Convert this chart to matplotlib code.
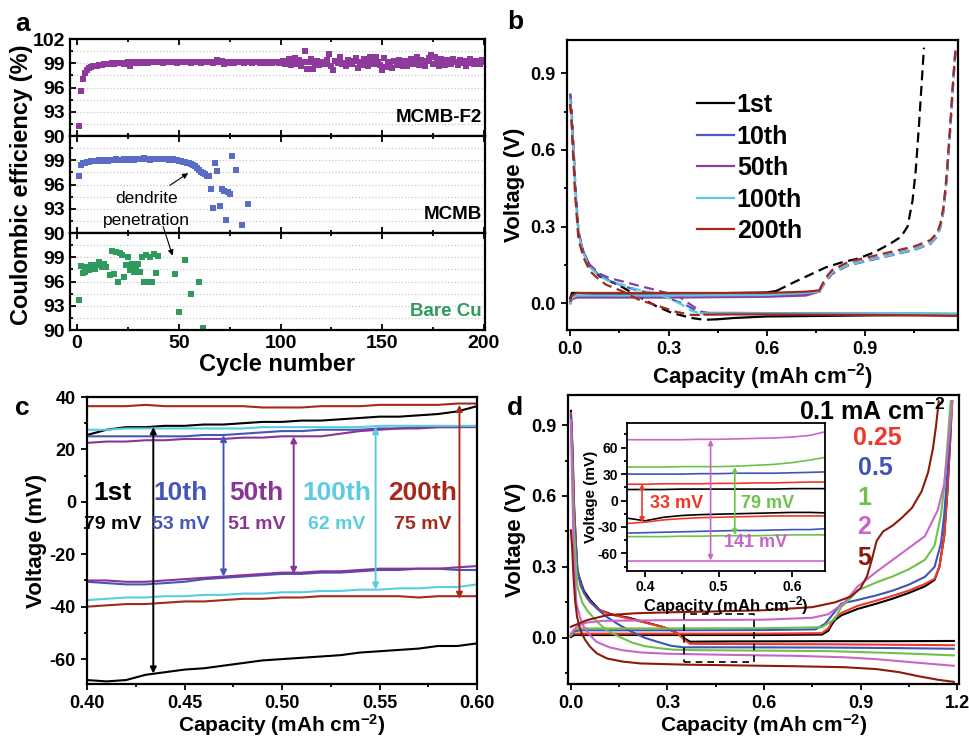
import matplotlib
matplotlib.use("Agg")
import matplotlib.pyplot as plt
from matplotlib.ticker import MultipleLocator

plt.rcParams['font.family'] = ['Liberation Sans', 'DejaVu Sans']
plt.rcParams['font.weight'] = 'bold'
plt.rcParams['axes.labelweight'] = 'bold'
plt.rcParams['mathtext.fontset'] = 'custom'
plt.rcParams['mathtext.bf'] = 'Liberation Sans:bold'
plt.rcParams['mathtext.rm'] = 'Liberation Sans:bold'
plt.rcParams['mathtext.default'] = 'bf'
plt.rcParams['axes.unicode_minus'] = False

# ---------------- panel a data ----------------
f2_ce = [
    91.2, 95.6, 97.1, 97.8, 98.2, 98.4, 98.5, 98.6, 98.7, 98.7,
    98.8, 98.8, 98.9, 98.9, 98.9, 98.9, 99.0, 98.9, 99.0, 99.0,
    99.0, 99.0, 98.9, 99.0, 99.1, 98.7, 99.0, 99.1, 99.0, 99.1,
    99.1, 99.0, 99.1, 99.1, 99.0, 99.1, 99.1, 99.2, 99.1, 99.1,
    99.1, 99.0, 99.1, 99.1, 99.2, 99.1, 99.1, 99.1, 99.0, 99.1,
    99.1, 99.2, 99.1, 99.1, 99.1, 99.0, 99.1, 99.2, 99.1, 99.1,
    99.0, 99.1, 99.2, 99.1, 99.1, 99.1, 99.0, 99.2, 99.4, 99.1,
    99.3, 98.9, 99.1, 99.0, 99.2, 99.1, 99.0, 99.1, 99.2, 99.1,
    99.1, 99.0, 99.2, 99.1, 99.1, 99.0, 99.1, 99.2, 99.1, 99.0,
    99.1, 99.2, 99.0, 99.1, 99.1, 99.0, 99.2, 99.1, 99.0, 99.1,
    99.3, 98.9, 99.2, 99.5, 98.8, 99.0, 99.7, 98.9, 99.4, 98.7,
    99.2, 100.5, 98.3, 99.1, 99.5, 98.3, 99.0, 99.3, 98.8, 99.1,
    99.2, 98.9, 99.4, 100.2, 98.7, 98.2, 99.3, 99.0, 99.8, 98.9,
    99.0, 98.6, 99.4, 99.1, 98.9, 99.3, 99.7, 98.4, 99.2, 98.8,
    99.5, 99.4, 98.7, 99.8, 99.1, 98.9, 99.8, 99.2, 98.8, 98.2,
    99.6, 98.5, 99.2, 99.0, 98.4, 99.3, 98.8, 99.4, 99.0, 98.6,
    99.3, 98.7, 99.1, 99.5, 98.9, 99.2, 99.8, 98.8, 99.4, 99.0,
    98.7, 99.3, 99.6, 100.0, 98.9, 99.8, 99.2, 98.6, 99.5, 99.0,
    98.8, 99.4, 99.1, 98.9, 99.5, 99.2, 98.8, 99.4, 99.0, 99.3,
    98.7, 99.2, 99.5, 99.0, 98.9, 99.3, 99.1, 98.9, 99.4, 99.2]
f2_cycle = list(range(1, len(f2_ce) + 1))

mcmb_cycle = list(range(1, 66)) + [66, 67, 68, 69, 70, 71, 72, 73, 74, 75, 76, 78, 81, 84]
mcmb_ce = [
    97.0, 98.4, 98.6, 98.7, 98.8, 98.8, 98.9, 98.9, 98.9, 98.9,
    99.0, 98.9, 99.0, 99.0, 98.9, 99.0, 99.0, 99.0, 99.1, 99.0,
    99.0, 99.0, 99.1, 99.0, 99.0, 99.1, 99.1, 99.0, 99.1, 99.1,
    99.1, 99.2, 99.3, 99.1, 99.1, 99.0, 99.1, 99.2, 99.1, 99.1,
    99.2, 99.1, 99.1, 99.1, 99.0, 99.0, 99.1, 99.0, 99.0, 98.9,
    98.9, 98.8, 98.8, 98.7, 98.6, 98.5, 98.4, 98.3, 98.1, 97.8,
    97.6, 97.4, 97.3, 97.1, 97.0,
    95.4, 93.1, 98.6, 97.7, 93.3, 95.4, 95.2, 91.6, 95.1, 94.8, 99.5, 97.8, 91.0, 93.6]

cu_cycle = list(range(1, 15)) + list(range(16, 41)) + [48, 50, 53, 56, 60, 62]
cu_ce = [93.7, 97.9, 97.0, 97.2, 97.8, 97.4, 98.0, 97.6, 97.5, 98.1,
         98.4, 97.8, 98.2, 97.8,
         96.8, 99.8, 96.9, 99.6, 95.9, 99.5, 99.3, 96.5, 98.0, 99.0,
         97.4, 98.2, 97.2, 97.9, 98.2, 97.2, 99.0, 95.9, 99.3, 95.9,
         99.0, 96.0, 99.4, 97.0, 99.1,
         96.9, 92.2, 98.7, 94.4, 96.0, 90.2]

# ---------------- panel b data ----------------
b_labels = ['1st', '10th', '50th', '100th', '200th']
b_colors = ['black', '#4a5bc4', '#8e3c9e', '#5cc8e0', '#a3281c']

b_dis_x = {
    '1st': [0.0, 0.004, 0.008, 0.015, 0.025, 0.04, 0.06, 0.09, 0.115, 0.16, 0.21, 0.26, 0.31, 0.37, 0.41, 0.45],
    '10th': [0.0, 0.004, 0.008, 0.015, 0.025, 0.04, 0.06, 0.09, 0.12, 0.16, 0.2, 0.26, 0.3, 0.35, 0.39, 0.41],
    '50th': [0.0, 0.004, 0.008, 0.015, 0.025, 0.04, 0.06, 0.09, 0.12, 0.16, 0.21, 0.26, 0.33, 0.37, 0.40, 0.42],
    '100th': [0.0, 0.004, 0.008, 0.015, 0.025, 0.04, 0.06, 0.09, 0.12, 0.16, 0.2, 0.26, 0.3, 0.34, 0.37, 0.40],
    '200th': [0.0, 0.004, 0.008, 0.015, 0.025, 0.04, 0.06, 0.09, 0.11, 0.16, 0.21, 0.26, 0.32, 0.37, 0.39, 0.41]}
b_dis_y = {
    '1st': [0.78, 0.72, 0.62, 0.45, 0.27, 0.2, 0.145, 0.105, 0.09, 0.062, 0.025, -0.01, -0.038, -0.058, -0.065, -0.063],
    '10th': [0.82, 0.76, 0.66, 0.47, 0.28, 0.2, 0.145, 0.11, 0.088, 0.068, 0.052, 0.035, 0.02, -0.005, -0.033, -0.04],
    '50th': [0.82, 0.76, 0.66, 0.47, 0.28, 0.2, 0.15, 0.115, 0.098, 0.085, 0.068, 0.052, 0.028, -0.008, -0.033, -0.038],
    '100th': [0.8, 0.74, 0.64, 0.46, 0.27, 0.195, 0.14, 0.105, 0.085, 0.072, 0.055, 0.039, 0.02, -0.005, -0.03, -0.04],
    '200th': [0.78, 0.72, 0.6, 0.42, 0.25, 0.18, 0.125, 0.09, 0.072, 0.046, 0.013, -0.007, -0.033, -0.046, -0.046, -0.045]}
b_pl_x = {
    '1st': [0.45, 0.5, 0.6, 0.75, 0.9, 1.05, 1.18],
    '10th': [0.41, 0.5, 0.6, 0.75, 0.9, 1.05, 1.18],
    '50th': [0.42, 0.5, 0.6, 0.75, 0.9, 1.05, 1.18],
    '100th': [0.40, 0.5, 0.6, 0.75, 0.9, 1.05, 1.18],
    '200th': [0.41, 0.5, 0.6, 0.75, 0.9, 1.05, 1.18]}
b_pl_y = {
    '1st': [-0.063, -0.058, -0.052, -0.05, -0.048, -0.046, -0.045],
    '10th': [-0.04, -0.04, -0.04, -0.041, -0.042, -0.042, -0.043],
    '50th': [-0.038, -0.038, -0.039, -0.04, -0.041, -0.041, -0.042],
    '100th': [-0.04, -0.04, -0.04, -0.04, -0.04, -0.04, -0.041],
    '200th': [-0.045, -0.044, -0.044, -0.045, -0.046, -0.048, -0.05]}
b_ch_x = {
    '1st': [0.0, 0.005, 0.02, 0.1, 0.4, 0.6, 0.63],
    '10th': [0.0, 0.005, 0.02, 0.3, 0.6, 0.72, 0.76],
    '50th': [0.0, 0.005, 0.02, 0.3, 0.6, 0.72, 0.76],
    '100th': [0.0, 0.005, 0.02, 0.3, 0.6, 0.72, 0.76],
    '200th': [0.0, 0.005, 0.02, 0.3, 0.6, 0.72, 0.76]}
b_ch_y = {
    '1st': [0.02, 0.04, 0.04, 0.035, 0.038, 0.042, 0.048],
    '10th': [0.0, 0.02, 0.028, 0.03, 0.03, 0.035, 0.045],
    '50th': [0.0, 0.015, 0.022, 0.022, 0.025, 0.03, 0.045],
    '100th': [0.0, 0.02, 0.03, 0.03, 0.032, 0.04, 0.045],
    '200th': [0.01, 0.03, 0.04, 0.04, 0.04, 0.045, 0.05]}
b_up_x = {
    '1st': [0.63, 0.68, 0.73, 0.78, 0.83, 0.88, 0.93, 0.98, 1.01, 1.03, 1.045, 1.055, 1.065, 1.075, 1.08],
    '10th': [0.76, 0.78, 0.8, 0.85, 0.9, 0.95, 1.0, 1.05, 1.1, 1.12, 1.13, 1.14, 1.15, 1.16, 1.17, 1.176],
    '50th': [0.76, 0.78, 0.8, 0.85, 0.9, 0.95, 1.0, 1.05, 1.1, 1.12, 1.13, 1.14, 1.15, 1.16, 1.17, 1.176],
    '100th': [0.76, 0.78, 0.8, 0.85, 0.9, 0.95, 1.0, 1.05, 1.1, 1.12, 1.13, 1.14, 1.15, 1.16, 1.17, 1.176],
    '200th': [0.76, 0.78, 0.8, 0.85, 0.9, 0.95, 1.0, 1.05, 1.1, 1.12, 1.13, 1.14, 1.15, 1.16, 1.17, 1.177]}
b_up_y = {
    '1st': [0.048, 0.08, 0.11, 0.14, 0.16, 0.175, 0.2, 0.235, 0.26, 0.3, 0.4, 0.52, 0.7, 0.9, 1.0],
    '10th': [0.045, 0.09, 0.12, 0.152, 0.167, 0.182, 0.197, 0.212, 0.237, 0.265, 0.3, 0.37, 0.5, 0.68, 0.88, 0.99],
    '50th': [0.045, 0.085, 0.115, 0.148, 0.163, 0.178, 0.193, 0.208, 0.232, 0.26, 0.295, 0.36, 0.49, 0.67, 0.87, 0.98],
    '100th': [0.045, 0.09, 0.12, 0.15, 0.165, 0.18, 0.195, 0.21, 0.235, 0.262, 0.298, 0.365, 0.5, 0.68, 0.88, 0.99],
    '200th': [0.05, 0.1, 0.13, 0.162, 0.177, 0.192, 0.207, 0.222, 0.247, 0.275, 0.31, 0.38, 0.51, 0.69, 0.89, 1.0]}

# ---------------- panel c data ----------------
c_cap = [0.40, 0.41, 0.42, 0.43, 0.44, 0.45, 0.46, 0.47, 0.48, 0.49, 0.50,
         0.51, 0.52, 0.53, 0.54, 0.55, 0.56, 0.57, 0.58, 0.59, 0.60]
c_top = {
    '1st': [25.5, 27.5, 28.5, 28.5, 29.0, 29.0, 29.5, 29.5, 30.0, 30.5, 30.5, 31.0, 31.0, 31.5, 32.0, 32.5, 32.5, 33.0, 33.5, 34.5, 36.5],
    '10th': [25.0, 25.0, 25.0, 25.0, 25.0, 25.0, 25.5, 25.5, 26.0, 26.5, 27.0, 27.0, 27.5, 27.5, 27.5, 28.0, 28.0, 28.5, 28.5, 28.5, 29.0],
    '50th': [22.5, 23.0, 23.0, 23.5, 23.5, 24.0, 24.0, 24.0, 24.5, 24.5, 25.0, 25.0, 25.0, 26.0, 27.0, 27.5, 28.0, 28.0, 28.5, 28.5, 28.5],
    '100th': [27.5, 27.5, 28.0, 28.0, 28.0, 28.0, 28.0, 28.0, 28.0, 28.5, 28.5, 28.5, 28.5, 28.5, 28.5, 29.0, 29.0, 29.0, 29.0, 29.0, 29.0],
    '200th': [36.5, 36.5, 36.5, 37.0, 36.5, 36.5, 36.5, 36.5, 36.5, 36.0, 36.0, 36.0, 36.5, 36.5, 36.5, 37.0, 37.0, 37.0, 37.0, 37.5, 37.5]}
c_bot = {
    '1st': [-68.0, -68.5, -68.0, -66.0, -65.0, -64.0, -63.5, -62.5, -61.5, -60.5, -60.0, -59.5, -59.0, -58.5, -57.5, -57.0, -56.5, -56.0, -55.0, -55.0, -54.0],
    '10th': [-30.5, -31.0, -31.5, -31.5, -31.0, -30.5, -29.5, -29.0, -28.5, -28.0, -27.5, -27.5, -27.0, -27.0, -26.5, -26.0, -26.0, -25.5, -25.5, -26.0, -26.0],
    '50th': [-30.0, -30.0, -30.5, -30.5, -30.0, -29.5, -29.0, -28.5, -28.0, -27.5, -27.0, -27.0, -26.5, -26.5, -26.0, -25.5, -25.5, -25.5, -25.5, -25.0, -24.5],
    '100th': [-37.5, -37.0, -36.5, -36.5, -36.0, -36.0, -35.5, -35.5, -35.0, -35.0, -34.5, -34.5, -34.0, -34.0, -33.5, -33.5, -33.0, -33.0, -32.5, -32.5, -31.5],
    '200th': [-40.0, -39.5, -39.0, -39.0, -38.5, -38.0, -38.0, -37.5, -37.0, -37.0, -36.5, -36.5, -36.0, -36.0, -36.0, -36.0, -36.0, -36.5, -36.0, -36.0, -36.0]}
c_arrow_x = [0.434, 0.470, 0.506, 0.548, 0.591]
c_arrow_top = [28.5, 25.5, 25.0, 28.5, 37.0]
c_arrow_bot = [-65.5, -28.5, -27.5, -33.5, -37.0]
c_gap = ['79 mV', '53 mV', '51 mV', '62 mV', '75 mV']
c_text_x = [0.413, 0.448, 0.487, 0.528, 0.572]

# ---------------- panel d data ----------------
d_labels = ['0.1', '0.25', '0.5', '1', '2', '5']
d_colors = ['black', '#f0382a', '#4053b8', '#6cc24a', '#c866c8', '#8b1a0a']
d_dis_x = {
    '0.1': [0.0, 0.005, 0.01, 0.02, 0.04, 0.06, 0.09, 0.13, 0.18, 0.22, 0.27, 0.3, 0.33, 0.35, 0.37, 0.5, 0.8, 1.0, 1.19],
    '0.25': [0.0, 0.005, 0.01, 0.02, 0.04, 0.06, 0.09, 0.12, 0.16, 0.2, 0.25, 0.29, 0.33, 0.35, 0.37, 0.5, 0.8, 1.0, 1.19],
    '0.5': [0.0, 0.005, 0.01, 0.02, 0.03, 0.05, 0.08, 0.11, 0.15, 0.19, 0.23, 0.27, 0.31, 0.35, 0.5, 0.8, 1.0, 1.19],
    '1': [0.0, 0.005, 0.01, 0.02, 0.035, 0.05, 0.08, 0.11, 0.15, 0.19, 0.23, 0.27, 0.32, 0.4, 0.6, 0.8, 0.9, 1.0, 1.1, 1.19],
    '2': [0.0, 0.004, 0.008, 0.017, 0.03, 0.04, 0.06, 0.08, 0.12, 0.16, 0.22, 0.3, 0.5, 0.7, 0.85, 0.95, 1.05, 1.12, 1.19],
    '5': [0.0, 0.004, 0.008, 0.013, 0.019, 0.027, 0.034, 0.045, 0.06, 0.08, 0.112, 0.16, 0.215, 0.35, 0.5, 0.7, 0.85, 0.95, 1.02, 1.08, 1.14, 1.19]}
d_dis_y = {
    '0.1': [0.96, 0.8, 0.55, 0.28, 0.2, 0.16, 0.117, 0.098, 0.085, 0.07, 0.052, 0.04, 0.02, 0.0, -0.016, -0.015, -0.014, -0.014, -0.013],
    '0.25': [0.95, 0.78, 0.55, 0.28, 0.19, 0.15, 0.118, 0.1, 0.088, 0.075, 0.058, 0.045, 0.02, -0.005, -0.025, -0.026, -0.027, -0.029, -0.031],
    '0.5': [0.94, 0.75, 0.5, 0.3, 0.22, 0.17, 0.125, 0.09, 0.055, 0.025, 0.0, -0.017, -0.033, -0.04, -0.04, -0.041, -0.043, -0.046],
    '1': [0.92, 0.7, 0.45, 0.22, 0.15, 0.117, 0.07, 0.033, 0.005, -0.02, -0.035, -0.043, -0.05, -0.052, -0.054, -0.056, -0.06, -0.064, -0.069, -0.074],
    '2': [0.92, 0.65, 0.4, 0.145, 0.08, 0.047, 0.01, -0.017, -0.04, -0.052, -0.062, -0.067, -0.072, -0.076, -0.082, -0.09, -0.102, -0.11, -0.118],
    '5': [0.455, 0.38, 0.26, 0.16, 0.09, 0.045, 0.018, -0.01, -0.038, -0.065, -0.087, -0.1, -0.108, -0.113, -0.116, -0.12, -0.124, -0.132, -0.145, -0.162, -0.177, -0.186]}
d_ch_x = {
    '0.1': [0.0, 0.01, 0.03, 0.3, 0.6, 0.78, 0.8, 0.81, 0.82, 0.84, 0.89, 0.95, 1.0, 1.05, 1.1, 1.13, 1.145, 1.16, 1.17, 1.178, 1.184],
    '0.25': [0.0, 0.01, 0.03, 0.3, 0.6, 0.78, 0.8, 0.81, 0.82, 0.84, 0.89, 0.95, 1.0, 1.05, 1.1, 1.13, 1.145, 1.16, 1.17, 1.178, 1.185],
    '0.5': [0.0, 0.01, 0.03, 0.3, 0.6, 0.76, 0.79, 0.82, 0.84, 0.89, 0.95, 1.0, 1.05, 1.1, 1.13, 1.15, 1.16, 1.17, 1.178, 1.184],
    '1': [0.0, 0.01, 0.03, 0.3, 0.6, 0.78, 0.82, 0.84, 0.87, 0.89, 0.95, 1.0, 1.05, 1.1, 1.13, 1.15, 1.16, 1.17, 1.18],
    '2': [0.0, 0.02, 0.05, 0.1, 0.3, 0.6, 0.75, 0.8, 0.85, 0.89, 0.95, 1.0, 1.05, 1.1, 1.14, 1.16, 1.17, 1.18, 1.186],
    '5': [0.0, 0.05, 0.112, 0.2, 0.3, 0.45, 0.6, 0.75, 0.82, 0.87, 0.9, 0.92, 0.935, 0.95, 0.97, 1.0, 1.03, 1.06, 1.09, 1.11, 1.125, 1.135, 1.143]}
d_ch_y = {
    '0.1': [0.004, 0.012, 0.012, 0.012, 0.012, 0.014, 0.03, 0.055, 0.075, 0.095, 0.122, 0.145, 0.166, 0.19, 0.218, 0.245, 0.3, 0.43, 0.62, 0.82, 1.0],
    '0.25': [0.01, 0.018, 0.018, 0.018, 0.018, 0.02, 0.04, 0.065, 0.085, 0.105, 0.135, 0.158, 0.178, 0.2, 0.228, 0.25, 0.3, 0.43, 0.62, 0.82, 1.0],
    '0.5': [0.01, 0.028, 0.032, 0.032, 0.033, 0.036, 0.06, 0.11, 0.145, 0.16, 0.18, 0.2, 0.225, 0.258, 0.3, 0.4, 0.52, 0.7, 0.86, 1.0],
    '1': [0.01, 0.035, 0.04, 0.04, 0.041, 0.045, 0.08, 0.13, 0.17, 0.2, 0.235, 0.26, 0.29, 0.33, 0.39, 0.52, 0.64, 0.82, 1.0],
    '2': [0.018, 0.05, 0.065, 0.072, 0.075, 0.077, 0.085, 0.1, 0.15, 0.216, 0.28, 0.33, 0.38, 0.43, 0.54, 0.65, 0.78, 0.92, 1.0],
    '5': [0.047, 0.075, 0.096, 0.104, 0.108, 0.112, 0.117, 0.13, 0.15, 0.175, 0.21, 0.26, 0.33, 0.41, 0.45, 0.475, 0.51, 0.55, 0.62, 0.7, 0.8, 0.9, 1.0]}
d_text_x = [0.938, 0.953, 0.946, 0.912, 0.912, 0.912]
d_text_y = [0.956, 0.844, 0.717, 0.59, 0.47, 0.336]
d_box = [0.351, 0.569, -0.10, 0.10]

# inset (mV)
in_cap = [0.375, 0.40, 0.425, 0.45, 0.475, 0.50, 0.525, 0.55, 0.575, 0.60, 0.625, 0.645]
in_top = {
    '0.1': [12.5, 12.5, 12.5, 13, 13, 13, 13, 13, 13, 13.5, 13.5, 13.5],
    '0.25': [18.5, 18.5, 19, 19, 19, 19.5, 19.5, 20, 20, 20.5, 21, 21],
    '0.5': [30, 30, 30, 30, 30.5, 30.5, 31, 31, 31, 31.5, 32, 32.5],
    '1': [38, 38, 38, 38.5, 38.5, 38.5, 39, 40, 41, 43, 46, 49],
    '2': [69, 69, 69, 69, 69.5, 69.5, 70, 70.5, 71, 72, 74, 78]}
in_bot = {
    '0.1': [-20, -23, -19, -17, -16, -15.5, -15, -14.5, -14, -13.5, -13.5, -14],
    '0.25': [-26, -24.5, -22, -20.5, -19.5, -19, -18.5, -18, -17.5, -17.5, -17.5, -17.5],
    '0.5': [-37, -36.5, -36, -35.5, -35, -34.5, -34, -34, -33.5, -33, -33, -32],
    '1': [-41, -41, -41, -40.5, -40.5, -40, -40, -40, -39.5, -39, -39, -39],
    '2': [-69, -69, -69, -69, -69, -69, -69, -69, -69, -69, -69, -69]}

W, H = 970, 741
fig = plt.figure(figsize=(9.7, 7.41), dpi=100)


def box(l, t, r, b):
    return [l / W, 1 - b / H, (r - l) / W, (b - t) / H]


def style(ax, size=13):
    for s in ax.spines.values():
        s.set_linewidth(1.6)
    ax.tick_params(which='both', labelsize=size, width=1.3)
    ax.tick_params(which='major', length=4.5)
    ax.tick_params(which='minor', length=2.5)


# ---------------- a ----------------
ax1 = fig.add_axes(box(70, 39, 485, 136))
ax2 = fig.add_axes(box(70, 136, 485, 233))
ax3 = fig.add_axes(box(70, 233, 485, 330))
sets = [(ax1, f2_cycle, f2_ce, '#8e3a9c', 'MCMB-F2', 'black'),
        (ax2, mcmb_cycle, mcmb_ce, '#5b6cc4', 'MCMB', 'black'),
        (ax3, cu_cycle, cu_ce, '#2e9a5c', 'Bare Cu', '#2e9a5c')]
for ax, xs, ys, col, name, tcol in sets:
    ax.plot(xs, ys, 's', color=col, markersize=4.2, markeredgewidth=0)
    ax.set_xlim(-3.5, 200.5)
    ax.set_ylim(90, 102)
    ax.set_yticks([90, 93, 96, 99, 102] if ax is ax1 else [90, 93, 96, 99])
    ax.yaxis.set_minor_locator(MultipleLocator(1.5))
    ax.set_xticks([0, 50, 100, 150, 200])
    ax.xaxis.set_minor_locator(MultipleLocator(25))
    ax.grid(which='both', axis='y', color='#c8c8c8', linestyle=':', linewidth=0.9)
    ax.tick_params(which='both', direction='in', top=True)
    style(ax, 14)
    ax.text(199, 92.3, name, color=tcol, fontsize=13.5, ha='right', va='center')
    if ax is not ax3:
        ax.tick_params(labelbottom=False)
ax3.set_xlabel('Cycle number', fontsize=17, labelpad=1)
fig.text(0.022, 0.751, 'Coulombic efficiency (%)', rotation=90, fontsize=17,
         ha='center', va='center')
ax2.text(34, 94.3, 'dendrite', fontsize=12.5, fontweight='normal', ha='center', va='center')
ax2.text(34, 91.6, 'penetration', fontsize=12.5, fontweight='normal', ha='center', va='center')
ax2.annotate('', xy=(54.6, 97.4), xytext=(45.6, 95.9),
             arrowprops=dict(arrowstyle='-|>', color='black', lw=0.8, mutation_scale=8,
                             shrinkA=0, shrinkB=0))
ax3.annotate('', xy=(46.9, 99.2), xytext=(42.3, 90.8), textcoords=ax2.transData,
             arrowprops=dict(arrowstyle='-|>', color='black', lw=0.8, mutation_scale=8,
                             shrinkA=0, shrinkB=0), annotation_clip=False)

# ---------------- b ----------------
axb = fig.add_axes(box(567, 40, 958, 330))
dash = (0, (4.5, 2.5))
for lab, col in zip(b_labels, b_colors):
    axb.plot(b_dis_x[lab], b_dis_y[lab], color=col, lw=1.6, linestyle=dash)
    axb.plot(b_pl_x[lab], b_pl_y[lab], color=col, lw=1.6)
    axb.plot(b_ch_x[lab], b_ch_y[lab], color=col, lw=1.6, label=lab)
    axb.plot(b_up_x[lab], b_up_y[lab], color=col, lw=1.6, linestyle=dash)
axb.set_xlim(-0.01, 1.184)
axb.set_ylim(-0.105, 1.03)
axb.set_xticks([0.0, 0.3, 0.6, 0.9])
axb.set_yticks([0.0, 0.3, 0.6, 0.9])
axb.xaxis.set_minor_locator(MultipleLocator(0.15))
axb.yaxis.set_minor_locator(MultipleLocator(0.15))
style(axb)
axb.set_xlabel('Capacity (mAh cm$^{-2}$)', fontsize=16, labelpad=2)
axb.set_ylabel('Voltage (V)', fontsize=16, labelpad=4)
axb.legend(loc='upper left', bbox_to_anchor=(0.3, 0.86), frameon=False, fontsize=18,
           handlelength=1.5, handletextpad=0.1, labelspacing=0.3, borderpad=0)

# ---------------- c ----------------
axc = fig.add_axes(box(87, 397, 477, 684))
c_colors = ['black', '#4457b8', '#8b3497', '#5bcbe2', '#a52a1e']
for i, (lab, col) in enumerate(zip(b_labels, c_colors)):
    axc.plot(c_cap, c_top[lab], color=col, lw=1.5)
    axc.plot(c_cap, c_bot[lab], color=col, lw=1.5)
    axc.annotate('', xy=(c_arrow_x[i], c_arrow_bot[i]), xytext=(c_arrow_x[i], c_arrow_top[i]),
                 arrowprops=dict(arrowstyle='<|-|>', color=col, lw=1.4, mutation_scale=9,
                                 shrinkA=0, shrinkB=0))
    axc.text(c_text_x[i], 3.2, lab, color=col, fontsize=19, ha='center', va='center')
    axc.text(c_text_x[i], -8.5, c_gap[i], color=col, fontsize=14, ha='center', va='center')
axc.set_xlim(0.40, 0.60)
axc.set_ylim(-69.5, 40)
axc.set_xticks([0.40, 0.45, 0.50, 0.55, 0.60])
axc.set_xticklabels(['0.40', '0.45', '0.50', '0.55', '0.60'])
axc.set_yticks([-60, -40, -20, 0, 20, 40])
axc.xaxis.set_minor_locator(MultipleLocator(0.025))
axc.yaxis.set_minor_locator(MultipleLocator(10))
style(axc)
axc.set_xlabel('Capacity (mAh cm$^{-2}$)', fontsize=15, labelpad=0)
axc.set_ylabel('Voltage (mV)', fontsize=16, labelpad=2)

# ---------------- d ----------------
axd = fig.add_axes(box(568, 395, 959, 684))
for lab, col in zip(d_labels, d_colors):
    axd.plot(d_dis_x[lab], d_dis_y[lab], color=col, lw=1.5)
    axd.plot(d_ch_x[lab], d_ch_y[lab], color=col, lw=1.5)
axd.plot([d_box[0], d_box[1], d_box[1], d_box[0], d_box[0]],
         [d_box[2], d_box[2], d_box[3], d_box[3], d_box[2]],
         color='black', lw=1.2, linestyle=(0, (4, 3)))
axd.set_xlim(-0.009, 1.206)
axd.set_ylim(-0.195, 1.027)
axd.set_xticks([0.0, 0.3, 0.6, 0.9, 1.2])
axd.set_yticks([0.0, 0.3, 0.6, 0.9])
axd.xaxis.set_minor_locator(MultipleLocator(0.15))
axd.yaxis.set_minor_locator(MultipleLocator(0.15))
style(axd)
axd.set_xlabel('Capacity (mAh cm$^{-2}$)', fontsize=15, labelpad=0)
axd.set_ylabel('Voltage (V)', fontsize=16, labelpad=4)
d_names = ['0.1 mA cm$^{-2}$', '0.25', '0.5', '1', '2', '5']
for i, col in enumerate(d_colors):
    axd.text(d_text_x[i], d_text_y[i], d_names[i], color=col, fontsize=18,
             ha='center', va='center')

# inset
axi = fig.add_axes(box(627, 423, 825, 571))
for lab, col in zip(d_labels[:5], d_colors[:5]):
    axi.plot(in_cap, in_top[lab], color=col, lw=1.2)
    axi.plot(in_cap, in_bot[lab], color=col, lw=1.2)
in_arrows = [(0.3955, 19, -25, '#f0382a'), (0.489, 69, -68, '#c866c8'), (0.522, 38, -39, '#6cc24a')]
for x, y1, y2, col in in_arrows:
    axi.annotate('', xy=(x, y2), xytext=(x, y1),
                 arrowprops=dict(arrowstyle='<|-|>', color=col, lw=1.2, mutation_scale=7,
                                 shrinkA=0, shrinkB=0))
axi.text(0.443, -3, '33 mV', color='#f0382a', fontsize=13, ha='center', va='center')
axi.text(0.567, -3, '79 mV', color='#6cc24a', fontsize=13, ha='center', va='center')
axi.text(0.55, -48, '141 mV', color='#c866c8', fontsize=13, ha='center', va='center')
axi.set_xlim(0.375, 0.645)
axi.set_ylim(-80, 88)
axi.set_xticks([0.4, 0.5, 0.6])
axi.set_yticks([-60, -30, 0, 30, 60])
axi.xaxis.set_minor_locator(MultipleLocator(0.05))
axi.yaxis.set_minor_locator(MultipleLocator(15))
style(axi, 10)
axi.tick_params(which='both', pad=2)
for s in axi.spines.values():
    s.set_linewidth(1.3)
axi.set_xlabel('Capacity (mAh cm$^{-2}$)', fontsize=12, labelpad=0)
axi.set_ylabel('Voltage (mV)', fontsize=11, labelpad=0)

# panel letters
for lx, ly, lt in [(15, 24, 'a'), (507, 22, 'b'), (15, 408, 'c'), (507, 408, 'd')]:
    fig.text(lx / W, 1 - ly / H, lt, fontsize=19, ha='left', va='center')

fig.savefig('out.png', dpi=100)
